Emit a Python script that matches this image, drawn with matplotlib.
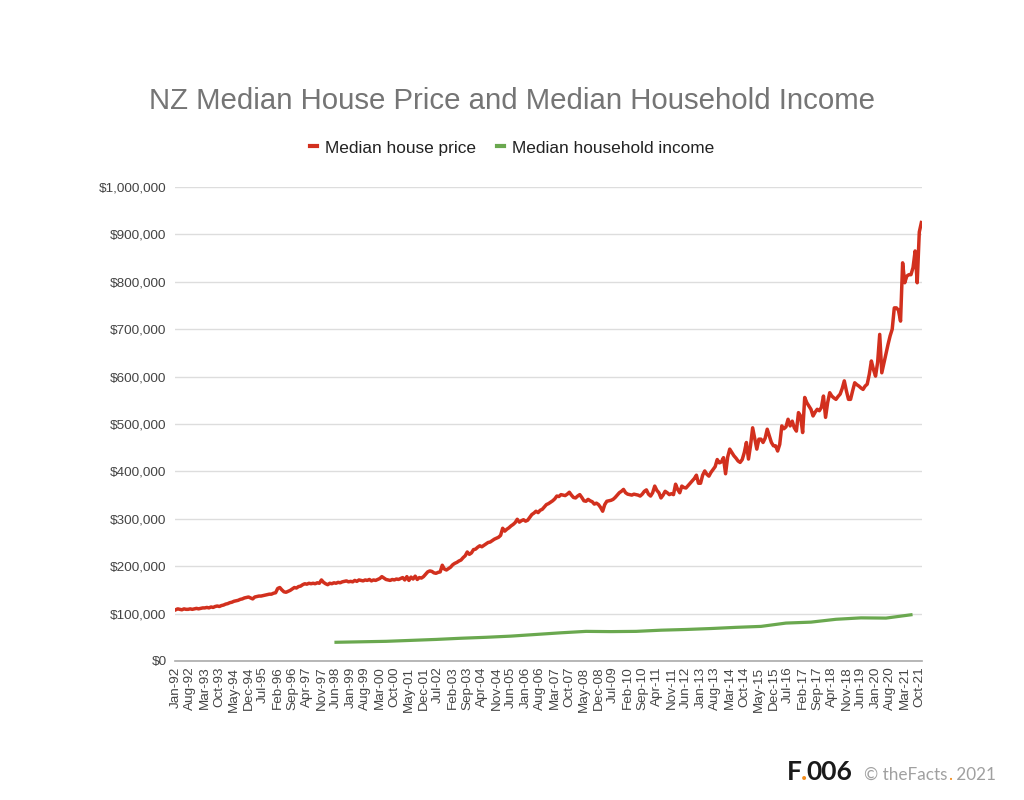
import matplotlib
matplotlib.use("Agg")
import matplotlib.pyplot as plt
import pandas as pd
from matplotlib.lines import Line2D

# ---------------- data ----------------
start_month = "1992-01"
house_price_k = [
    # 1992
    108,110,109,108,110,109,109,110,109,110,111,110,
    # 1993
    111,112,112,113,112,114,113,115,116,115,117,118,
    # 1994
    120,121,123,124,126,127,128,130,131,133,134,135,
    # 1995
    133,131,135,136,137,137,138,139,140,141,141,143,
    # 1996
    144,153,155,150,146,145,147,149,152,155,154,157,
    # 1997
    158,161,163,162,164,163,164,163,165,164,171,166,
    # 1998
    163,161,164,163,165,164,166,165,167,168,169,167,
    # 1999
    168,167,170,168,171,170,169,171,170,172,169,171,
    # 2000
    170,172,174,178,175,172,171,170,172,171,173,172,
    # 2001
    174,176,171,178,170,177,173,179,172,176,175,178,
    # 2002
    183,188,190,189,186,185,187,188,202,194,192,195,
    # 2003
    198,203,206,208,211,213,218,222,230,225,228,235,
    # 2004
    236,240,243,241,244,247,250,251,254,257,259,261,
    # 2005
    265,280,274,278,281,285,288,292,299,293,296,298,
    # 2006
    295,297,303,309,312,316,313,318,320,325,330,332,
    # 2007
    335,338,342,348,347,351,350,349,352,356,350,345,
    # 2008
    344,348,351,345,338,337,341,338,336,331,333,330,
    # 2009
    324,316,330,337,338,339,341,345,350,355,358,362,
    # 2010
    355,352,351,350,352,351,350,348,352,358,361,352,
    # 2011
    348,355,369,360,355,344,350,358,355,351,353,351,
    # 2012
    373,362,355,369,366,365,370,375,380,385,392,375,
    # 2013
    375,392,401,394,390,398,404,410,425,418,420,429,
    # 2014
    395,430,447,440,433,428,422,419,425,440,461,426,
    # 2015
    455,492,470,447,468,468,461,470,489,475,461,454,
    # 2016
    454,443,457,496,490,494,510,496,506,492,485,524,
    # 2017
    517,482,556,545,538,531,517,525,531,528,535,559,
    # 2018
    514,545,566,559,555,552,558,563,575,591,570,552,
    # 2019
    552,570,587,583,580,576,573,580,584,605,633,615,
    # 2020
    601,630,689,608,628,647,668,686,700,745,745,740,
    # 2021
    717,840,798,812,815,815,830,865,798,905,925,
]

income_years = list(range(1998, 2022))
income_k = [39.5, 40.5, 41.5, 43.5, 45.5, 48, 50, 52.5, 56, 59.5, 62.5, 62,
            62.5, 65, 66.5, 68.5, 71, 73, 80, 82, 88, 91, 90.5, 97.5]
income_month = 6   # year ended June

tick_every = 7
yticks = [0, 100000, 200000, 300000, 400000, 500000, 600000, 700000, 800000, 900000, 1000000]

title = "NZ Median House Price and Median Household Income"
series_names = ["Median house price", "Median household income"]

# ---------------- derived ----------------
months = pd.date_range(start_month, periods=len(house_price_k), freq="MS")
month_labels = list(months.strftime("%b-%y"))
x_house = list(range(len(house_price_k)))
house = [v * 1000 for v in house_price_k]
x_income = [(y - months[0].year) * 12 + (income_month - 1) for y in income_years]
income = [v * 1000 for v in income_k]

RED = "#d2301e"
GREEN = "#6aa84f"
FONT = ["Liberation Sans", "DejaVu Sans"]
plt.rcParams["font.family"] = FONT

fig = plt.figure(figsize=(10.24, 8.0), dpi=100)
ax = fig.add_axes([175/1024, 1-661/800, (922-175)/1024, (661-187)/800])

ax.plot(x_house, house, color=RED, lw=2.5, solid_joinstyle="round", zorder=3)
ax.plot(x_income, income, color=GREEN, lw=2.3, zorder=3)

ax.set_ylim(0, 1000000)
ax.set_xlim(-0.3, len(house_price_k) - 1 + 0.3)
ax.set_yticks(yticks)
ax.set_yticklabels([f"${v:,.0f}" for v in yticks], fontsize=9.7, color="#444444")
ticks = list(range(0, len(house_price_k), tick_every))
ax.set_xticks(ticks)
ax.set_xticklabels([month_labels[i] for i in ticks], rotation=90, fontsize=9.7,
                   color="#444444", ha="center", va="top")
ax.tick_params(axis="both", length=0)
ax.tick_params(axis="x", pad=4)
ax.tick_params(axis="y", pad=6)
ax.grid(axis="y", color="#dddddd", lw=1)
ax.set_axisbelow(True)
for s in ["top", "right", "left"]:
    ax.spines[s].set_visible(False)
ax.spines["bottom"].set_color("#aaaaaa")
ax.spines["bottom"].set_linewidth(1.2)
ax.spines["bottom"].set_zorder(2)

fig.text(0.5, 1-101/800, title, ha="center", va="center", fontsize=21.2, color="#757575")

handles = [Line2D([0], [0], color=RED, lw=3), Line2D([0], [0], color=GREEN, lw=3)]
fig.legend(handles, series_names, loc="center", bbox_to_anchor=(0.5, 1-148/800),
           ncol=2, frameon=False, fontsize=12.4, handlelength=0.45, handletextpad=0.45,
           columnspacing=1.2, labelcolor="#222222")

# footer
fig.canvas.draw()
r = fig.canvas.get_renderer()
yb = 1-780/800
x = 787/1024
FF = ["Lato", "DejaVu Sans"]
for txt, col, fs in [("F", "#1a1a1a", 19), (".", "#f28c1b", 19), ("006", "#1a1a1a", 19)]:
    t = fig.text(x, yb, txt, color=col, fontweight="bold", fontsize=fs, family=FF, va="baseline")
    bb = t.get_window_extent(r)
    x += bb.width / 1024 - (1.5/1024 if txt == "F" else 0)
x += 12/1024
for txt, col in [("© theFacts", "#a0a0a0"), (".", "#f28c1b"), (" 2021", "#a0a0a0")]:
    t = fig.text(x, yb, txt, color=col, fontsize=12.3, family=FF, va="baseline")
    bb = t.get_window_extent(r)
    x += bb.width / 1024

fig.savefig("out.png", dpi=100, facecolor="white")
